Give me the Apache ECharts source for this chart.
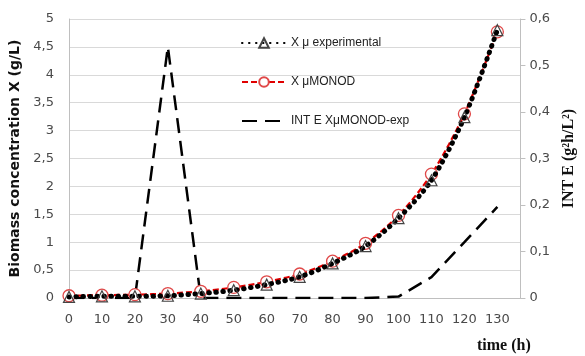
<!DOCTYPE html>
<html>
<head>
<meta charset="utf-8">
<script src="https://cdn.jsdelivr.net/npm/echarts@6/dist/echarts.min.js"></script>
<style>
  html, body { margin: 0; padding: 0; background: #fff; }
  #chart { width: 585px; height: 356px; }
</style>
</head>
<body>
<div id="chart"></div>
<script>
// time (h)
var times = [0, 10, 20, 30, 40, 50, 60, 70, 80, 90, 100, 110, 120, 130];
// biomass X, g/L (left axis)
var xExperimental = [0.02, 0.03, 0.03, 0.04, 0.08, 0.14, 0.24, 0.38, 0.62, 0.93, 1.43, 2.11, 3.24, 4.8];
var xMonod = [0.04, 0.05, 0.06, 0.08, 0.12, 0.19, 0.29, 0.43, 0.66, 0.98, 1.48, 2.22, 3.3, 4.77];
// INT E (right axis)
var intE = [0, 0, 0, 0.54, 0, 0, 0, 0, 0, 0, 0.003, 0.045, 0.12, 0.196];

var names = ['X \u03bc experimental', 'X \u03bcMONOD', 'INT E X\u03bcMONOD-exp'];

function pairs(vals) {
  return times.map(function (t, i) { return [t, vals[i]]; });
}
function comma(v) {
  return String(Math.round(v * 10) / 10).replace('.', ',');
}

var chart = echarts.init(document.getElementById('chart'), null, { renderer: 'canvas' });
var labelFont = { fontFamily: 'DejaVu Sans', fontSize: 13, color: '#4a4a4a' };

var option = {
  animation: false,
  backgroundColor: '#fff',
  grid: { left: 69, right: 57, top: 19, bottom: 58 },
  legend: {
    orient: 'vertical',
    left: 236,
    top: 32,
    itemWidth: 44,
    itemHeight: 12,
    itemGap: 27,
    data: [
      names[0],
      names[1],
      { name: names[2], itemStyle: { opacity: 0 } }
    ],
    textStyle: { fontFamily: 'Liberation Sans', fontSize: 12, color: '#222' }
  },
  xAxis: {
    type: 'value',
    min: 0,
    max: 137,
    interval: 10,
    axisLine: { lineStyle: { color: '#bfbfbf' } },
    axisTick: { show: false },
    splitLine: { show: false },
    axisLabel: Object.assign({
      margin: 15,
      showMaxLabel: false,
      formatter: function (v) { return v <= 130 && v % 10 === 0 ? String(v) : ''; }
    }, labelFont)
  },
  yAxis: [
    {
      type: 'value',
      min: 0,
      max: 5,
      interval: 0.5,
      name: 'Biomass concentration X (g/L)',
      nameLocation: 'middle',
      nameGap: 44,
      nameRotate: 90,
      nameTextStyle: { fontFamily: 'DejaVu Sans', fontWeight: 'bold', fontSize: 14, color: '#111' },
      axisLine: { show: true, lineStyle: { color: '#bfbfbf' } },
      axisTick: { show: false },
      splitLine: { lineStyle: { color: '#d9d9d9' } },
      axisLabel: Object.assign({ margin: 15, formatter: comma }, labelFont)
    },
    {
      type: 'value',
      min: 0,
      max: 0.6,
      interval: 0.1,
      position: 'right',
      name: 'INT E (g\u00b2h/L\u00b2)',
      nameLocation: 'middle',
      nameGap: 33,
      nameRotate: 90,
      nameTextStyle: { fontFamily: 'Liberation Serif', fontWeight: 'bold', fontSize: 16, color: '#111' },
      axisLine: { show: true, lineStyle: { color: '#bfbfbf' } },
      axisTick: { show: true, length: 5, lineStyle: { color: '#bfbfbf' } },
      splitLine: { show: false },
      axisLabel: Object.assign({ margin: 9, formatter: comma }, labelFont)
    }
  ],
  graphic: [{
    type: 'text',
    left: 477,
    top: 338,
    style: { text: 'time (h)', font: 'bold 16px "Liberation Serif"', fill: '#111' }
  }],
  series: [
    {
      name: names[1],
      type: 'line',
      yAxisIndex: 0,
      z: 3,
      data: pairs(xMonod),
      smooth: 0.3,
      symbol: 'circle',
      symbolSize: 12,
      itemStyle: { color: '#fff', borderColor: '#e04848', borderWidth: 1.3 },
      lineStyle: { color: '#e00000', width: 2.2, type: [6, 3] }
    },
    {
      name: names[0],
      type: 'line',
      yAxisIndex: 0,
      z: 4,
      data: pairs(xExperimental),
      smooth: 0.3,
      symbol: 'triangle',
      symbolSize: 11,
      itemStyle: { color: 'rgba(255,255,255,0)', borderColor: '#444', borderWidth: 1.2 },
      lineStyle: { color: '#000', width: 5, type: [0.5, 6.5], cap: 'round' }
    },
    {
      name: names[2],
      type: 'line',
      yAxisIndex: 1,
      z: 2,
      data: pairs(intE),
      symbol: 'none',
      itemStyle: { color: '#000' },
      lineStyle: { color: '#000', width: 2.5, type: [15, 8] }
    }
  ]
};

chart.setOption(option);
</script>
</body>
</html>
